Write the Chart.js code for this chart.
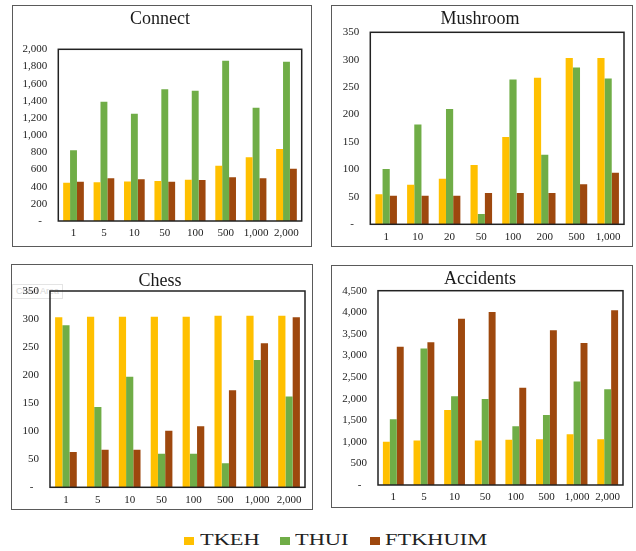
<!DOCTYPE html>
<html>
<head>
<meta charset="utf-8">
<script src="https://cdn.jsdelivr.net/npm/chart.js@4/dist/chart.umd.min.js"></script>
<style>
  html, body { margin: 0; padding: 0; background: #ffffff; }
  body { width: 636px; height: 551px; position: relative; overflow: hidden; }
  canvas { position: absolute; }
  .ghost { position: absolute; left: 12px; top: 284px; width: 51px; height: 15px;
           border: 1px solid #e4e4e4; color: #d6d6d6; font: 9px "Liberation Sans", Arial, sans-serif;
           line-height: 13px; padding-left: 3px; box-sizing: border-box; white-space: nowrap; overflow: hidden; }
  .key { position: absolute; width: 10px; height: 8px; top: 537px; }
  .lbl { position: absolute; top: 532px; font: 16px "Liberation Serif", "Times New Roman", serif;
         line-height: 16px; color: #222; transform: scaleX(1.4); transform-origin: 0 0; white-space: nowrap; }
</style>
</head>
<body>
<div class="ghost">Chart Area</div>

<div class="key" style="left:184px;background:#FFC000"></div><div class="lbl" style="left:200px">TKEH</div>
<div class="key" style="left:280px;background:#70AD47"></div><div class="lbl" style="left:295px">THUI</div>
<div class="key" style="left:370px;background:#9E480E"></div><div class="lbl" style="left:385px">FTKHUIM</div>

<script>
// ---- data ----
const minSupLabelsA = ['1', '5', '10', '50', '100', '500', '1,000', '2,000'];
const minSupLabelsM = ['1', '10', '20', '50', '100', '200', '500', '1,000'];

const connectTKEH    = [447, 450, 460, 466, 481, 645, 742, 839];
const connectTHUI    = [823, 1390, 1250, 1534, 1518, 1868, 1320, 1856];
const connectFTKHUIM = [458, 497, 485, 458, 478, 509, 497, 610];

const mushroomTKEH    = [55, 72, 83, 108, 159, 267, 303, 303];
const mushroomTHUI    = [101, 182, 210, 19, 264, 127, 286, 266];
const mushroomFTKHUIM = [52, 52, 52, 57, 57, 57, 73, 94];

const chessTKEH    = [303, 304, 304, 304, 304, 306, 306, 306];
const chessTHUI    = [289, 143, 197, 60, 60, 43, 227, 162];
const chessFTKHUIM = [63, 67, 67, 101, 109, 173, 257, 303];

const accidentsTKEH    = [1000, 1030, 1738, 1030, 1046, 1061, 1177, 1061];
const accidentsTHUI    = [1523, 3160, 2053, 1992, 1361, 1623, 2399, 2215];
const accidentsFTKHUIM = [3200, 3307, 3853, 4006, 2253, 3584, 3291, 4045];

const seriesNames  = ['TKEH', 'THUI', 'FTKHUIM'];
const seriesColors = ['#FFC000', '#70AD47', '#9E480E'];

// ---- drawing ----
const SERIF = '"Liberation Serif", "Times New Roman", serif';

// Panel frame, plot-area box and panel title
const panelPlugin = {
  id: 'panelFrame',
  afterDraw(chart, args, opts) {
    const ctx = chart.ctx;
    const w = chart.width, h = chart.height;
    const a = chart.chartArea;
    ctx.save();
    ctx.strokeStyle = '#5a5a5a';
    ctx.lineWidth = 1;
    ctx.strokeRect(0.5, 0.5, w - 1, h - 1);
    ctx.strokeStyle = '#222222';
    ctx.lineWidth = 1.5;
    ctx.strokeRect(a.left, a.top, a.right - a.left, a.bottom - a.top);
    ctx.fillStyle = '#1a1a1a';
    ctx.font = '18px ' + SERIF;
    ctx.textAlign = 'center';
    ctx.textBaseline = 'alphabetic';
    ctx.fillText(opts.text, w / 2 - 2, opts.baseline);
    ctx.restore();
  }
};

function makePanel(panel, plot, titleText, titleBaseline, labels, values, yMax, yStep) {
  const canvas = document.createElement('canvas');
  canvas.width = panel.w;
  canvas.height = panel.h;
  canvas.style.left = panel.x + 'px';
  canvas.style.top = panel.y + 'px';
  canvas.style.width = panel.w + 'px';
  canvas.style.height = panel.h + 'px';
  document.body.appendChild(canvas);

  const tickFont = { family: SERIF, size: 11 };
  const edge = 2;
  const yAxisWidth = plot.left - panel.x - edge;
  const xAxisHeight = panel.y + panel.h - plot.bottom - edge;

  return new Chart(canvas.getContext('2d'), {
    type: 'bar',
    data: {
      labels: labels,
      datasets: values.map((v, i) => ({
        label: seriesNames[i],
        data: v,
        backgroundColor: seriesColors[i],
        borderWidth: 0
      }))
    },
    options: {
      responsive: false,
      animation: false,
      devicePixelRatio: 1,
      layout: {
        padding: {
          left: edge,
          top: plot.top - panel.y,
          right: panel.x + panel.w - plot.right,
          bottom: edge
        }
      },
      datasets: { bar: { categoryPercentage: 0.68, barPercentage: 1 } },
      plugins: {
        legend: { display: false },
        tooltip: { enabled: false },
        title: { display: false },
        panelFrame: { text: titleText, baseline: titleBaseline }
      },
      scales: {
        x: {
          grid: { display: false, drawTicks: false },
          border: { display: false },
          ticks: { font: tickFont, color: '#222', padding: 6, maxRotation: 0, autoSkip: false },
          afterFit(s) { s.height = xAxisHeight; s.paddingLeft = 0; s.paddingRight = 0; }
        },
        y: {
          min: 0,
          max: yMax,
          grid: { display: false, drawTicks: false },
          border: { display: false },
          ticks: {
            stepSize: yStep,
            font: tickFont,
            color: '#222',
            padding: 11,
            callback: v => v === 0 ? '-\u2002' : v.toLocaleString('en-US')
          },
          afterFit(s) { s.width = yAxisWidth; s.paddingTop = 0; s.paddingBottom = 0; }
        }
      }
    },
    plugins: [panelPlugin]
  });
}

makePanel({ x: 12, y: 5, w: 300, h: 242 },
          { left: 58.3, top: 49.3, right: 301.7, bottom: 221 },
          'Connect', 19.3, minSupLabelsA,
          [connectTKEH, connectTHUI, connectFTKHUIM], 2000, 200);

makePanel({ x: 331, y: 5, w: 302, h: 242 },
          { left: 370.3, top: 32.3, right: 624, bottom: 224.3 },
          'Mushroom', 19, minSupLabelsM,
          [mushroomTKEH, mushroomTHUI, mushroomFTKHUIM], 350, 50);

makePanel({ x: 11, y: 264, w: 302, h: 246 },
          { left: 50, top: 291, right: 305, bottom: 487.3 },
          'Chess', 21.7, minSupLabelsA,
          [chessTKEH, chessTHUI, chessFTKHUIM], 350, 50);

makePanel({ x: 331, y: 265, w: 302, h: 243 },
          { left: 378, top: 290.7, right: 623, bottom: 485 },
          'Accidents', 19.3, minSupLabelsA,
          [accidentsTKEH, accidentsTHUI, accidentsFTKHUIM], 4500, 500);
</script>
</body>
</html>
